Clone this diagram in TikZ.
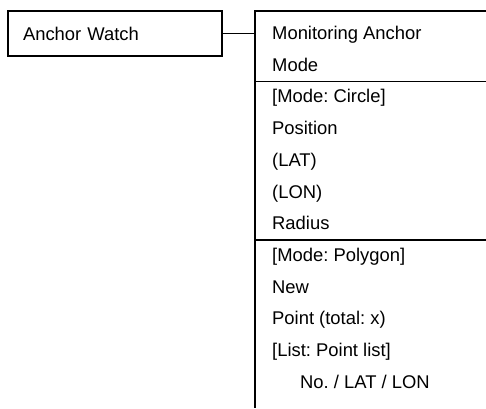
\documentclass[tikz,border=0pt]{standalone}
\usepackage{fontspec}
\setmainfont{Liberation Sans}
\frenchspacing
\definecolor{awLine}{HTML}{000000}
\definecolor{awText}{HTML}{000000}

\begin{document}
\begin{tikzpicture}[
  x=1pt, y=1pt,
  font=\fontsize{18.4}{22}\selectfont,
  menu/.style={
    rectangle,
    draw=awLine,
    line width=1.1pt,
    text=awText,
    minimum width=214pt,
    minimum height=45pt,
    inner xsep=15pt,
    inner ysep=0pt,
    text width=184pt,
    align=left
  },
  entry/.style={anchor=base west, text=awText, inner sep=0pt},
  rule/.style={awLine, line width=1.1pt}
]
  \useasboundingbox (0,0) rectangle (486,-408);

  \node[menu] (watch) at (115,-33.5) {Anchor Watch};

  % panel outline
  \coordinate (panelJoin) at (255,-33.5);
  \coordinate (panelTop) at (255,-11);
  \coordinate (panelTopEnd) at (486,-11);
  \coordinate (panelEnd) at (255,-408);
  \coordinate (sepA) at (255,-81.5);
  \coordinate (sepAEnd) at (486,-81.5);
  \coordinate (sepB) at (255,-240);
  \coordinate (sepBEnd) at (486,-240);

  \draw[rule] (watch.east) -- (panelJoin);
  \draw[rule] (panelTopEnd) -- (panelTop) -- (panelEnd);
  \draw[rule] (sepA) -- (sepAEnd);
  \draw[rule] (sepB) -- (sepBEnd);

  % panel entries
  \node[entry] (monitor) at (272,-39.5) {Monitoring Anchor};
  \node[entry] (mode) at (272,-71.2) {Mode};
  \node[entry] (circle) at (272,-102.9) {[Mode: Circle]};
  \node[entry] (position) at (272,-134.6) {Position};
  \node[entry] (lat) at (272,-166.3) {(LAT)};
  \node[entry] (lon) at (272,-198) {(LON)};
  \node[entry] (radius) at (272,-229.7) {Radius};
  \node[entry] (polygon) at (272,-261.4) {[Mode: Polygon]};
  \node[entry] (newPt) at (272,-293.1) {New};
  \node[entry] (pointTotal) at (272,-324.8) {Point (total: x)};
  \node[entry] (pointList) at (272,-356.5) {[List: Point list]};
  \node[entry] (pointCols) at (300,-388.2) {No. / LAT / LON};

\end{tikzpicture}
\end{document}
